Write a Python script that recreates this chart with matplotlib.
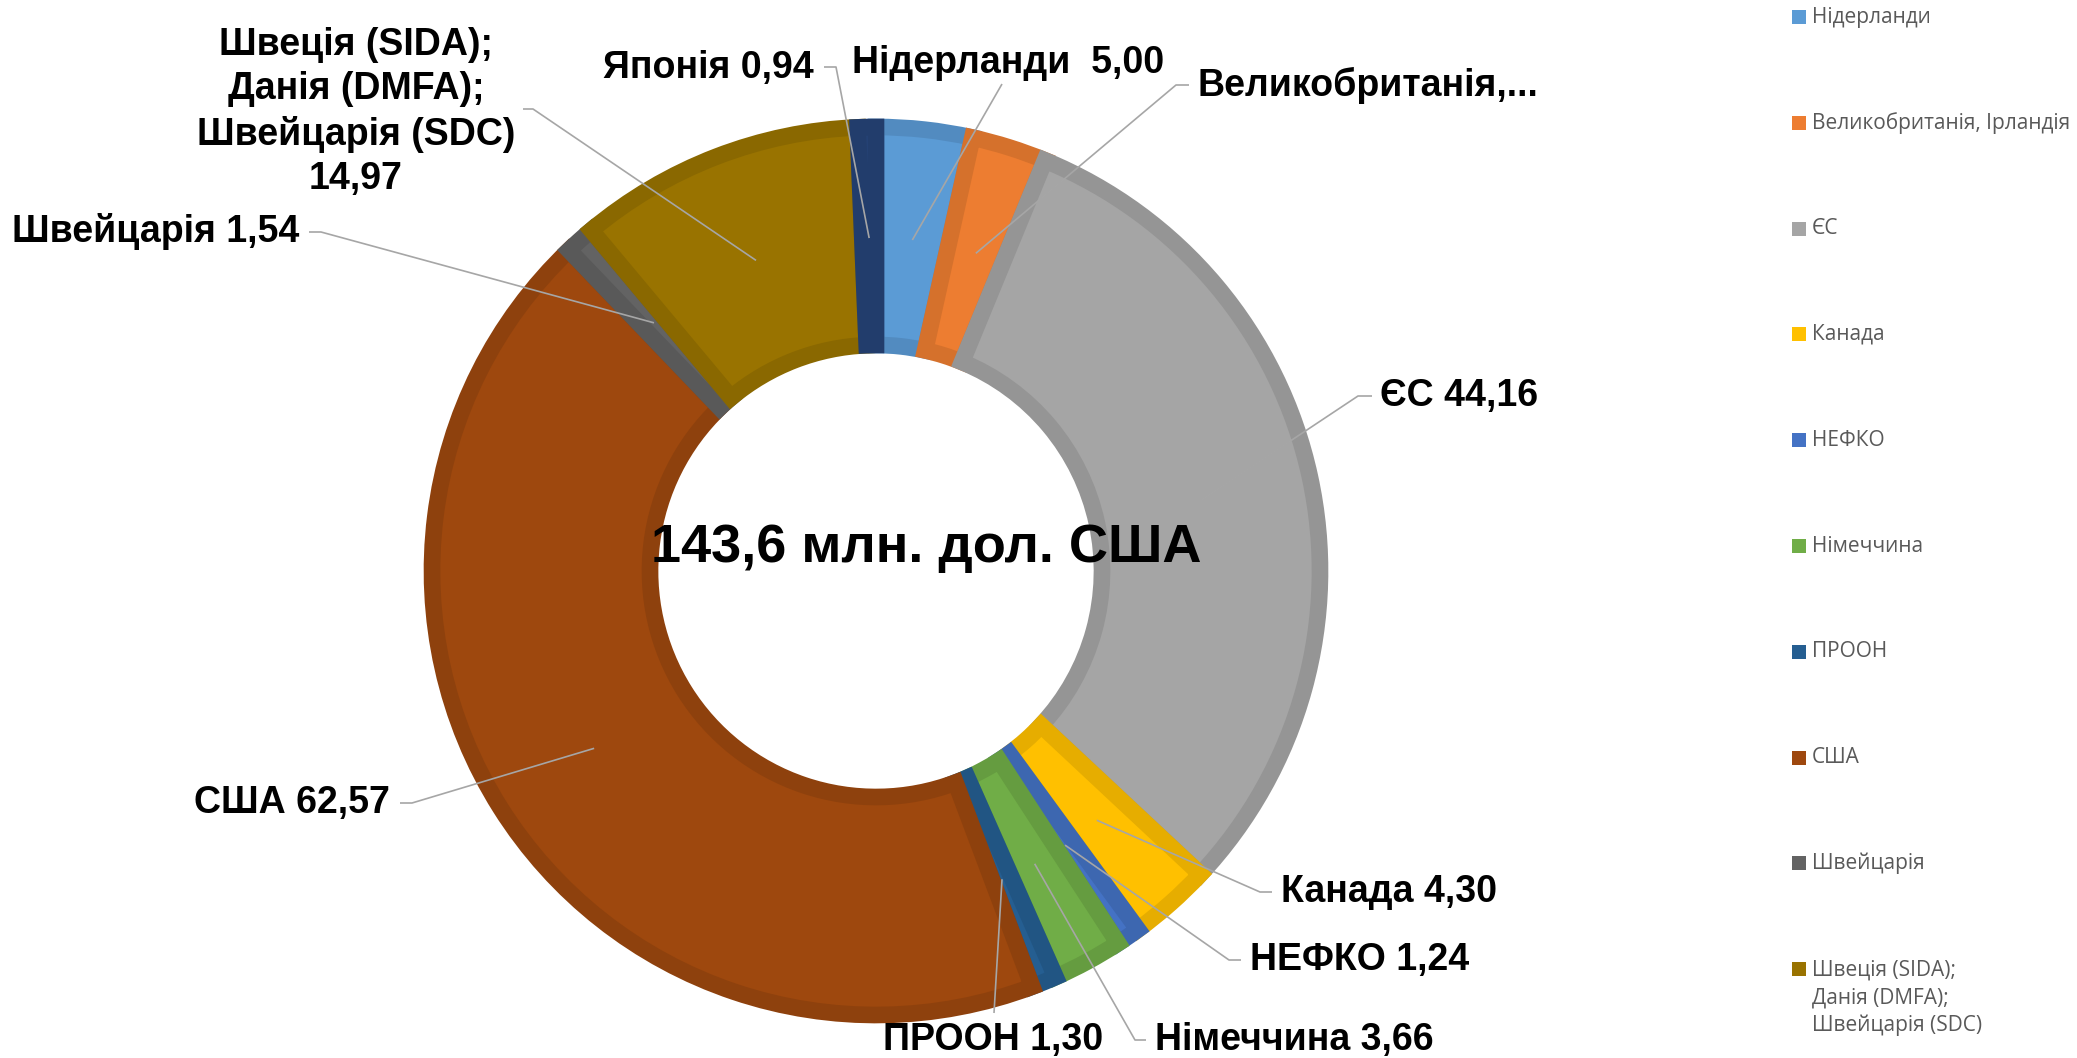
import numpy as np
import matplotlib
matplotlib.use('Agg')
from matplotlib import pyplot as plt
from matplotlib.patches import Rectangle
from matplotlib.colors import to_rgb

# figure in pixels, y measured from the top
W, H = 2077, 1058

donors = ['Нідерланди', 'Великобританія, Ірландія', 'ЄС', 'Канада', 'НЕФКО', 'Німеччина',
          'ПРООН', 'США', 'Швейцарія',
          'Швеція (SIDA);\nДанія (DMFA);\nШвейцарія (SDC)', 'Японія']
amounts = [5.00, 3.92, 44.16, 4.30, 1.24, 3.66, 1.30, 62.57, 1.54, 14.97, 0.94]
label_texts = ['Нідерланди  5,00', 'Великобританія,...', 'ЄС 44,16', 'Канада 4,30',
               'НЕФКО 1,24', 'Німеччина 3,66', 'ПРООН 1,30', 'США 62,57', 'Швейцарія 1,54',
               'Швеція (SIDA);\nДанія (DMFA);\nШвейцарія (SDC)\n14,97', 'Японія 0,94']
colors = ['#5B9BD5', '#ED7D31', '#A5A5A5', '#FFC000', '#4472C4', '#70AD47',
          '#255E91', '#9E480E', '#636363', '#997300', '#264478']
total_text = '143,6 млн. дол. США'

# label layout: text x, text y, alignment, leader start points
label_pos = [
    (852, 63, 'left', [(1002, 84)]),
    (1197, 85, 'left', [(1189, 85), (1176, 85)]),
    (1380, 396, 'left', [(1372, 396), (1358, 396)]),
    (1281, 892, 'left', [(1272, 892), (1260, 892)]),
    (1250, 960, 'left', [(1241, 960), (1229, 960)]),
    (1155, 1040, 'left', [(1146, 1040), (1135, 1040)]),
    (993, 1040, 'center', [(994, 1013)]),
    (390, 803, 'right', [(400, 803), (412, 803)]),
    (299, 232, 'right', [(309, 232), (321, 232)]),
    (356, 112, 'center', [(523, 109), (533, 109)]),
    (814, 68, 'right', [(824, 67), (836, 67)]),
]

plt.rcParams['font.family'] = ['Liberation Sans', 'DejaVu Sans']

cx, cy = 876, 571
R = 444
hole = 226

fig = plt.figure(figsize=(W / 100, H / 100), dpi=100)
ax = fig.add_axes([0, 0, 1, 1])

wedges, _ = ax.pie(amounts, colors=colors, radius=R, center=(cx, H - cy),
                   startangle=90, counterclock=False,
                   wedgeprops=dict(width=R - hole, linewidth=12, joinstyle='miter'))
# darker inner border on every slice (Excel-like bevel)
for w, c in zip(wedges, colors):
    dark = tuple(v * 0.9 for v in to_rgb(c))
    w.set_edgecolor(dark)
    w.set_clip_path(w)

# data labels with leader lines
cum = np.cumsum(amounts)
mids = (cum - np.array(amounts) / 2) / cum[-1] * 2 * np.pi
r_anchor = 0.75 * R
for i, (tx, ty, ha, pts) in enumerate(label_pos):
    axp = cx + r_anchor * np.sin(mids[i])
    ayp = cy - r_anchor * np.cos(mids[i])
    xs = [p[0] for p in pts] + [axp]
    ys = [H - p[1] for p in pts] + [H - ayp]
    ax.plot(xs, ys, color='#A6A6A6', linewidth=1.2, solid_capstyle='butt')
    ax.text(tx, H - ty, label_texts[i], ha=ha, va='center', fontsize=27,
            fontweight='bold', color='black', linespacing=1.3, multialignment='center')

ax.text(926, H - 548, total_text, ha='center', va='center', fontsize=39,
        fontweight='bold', color='black')

# legend, stacked on the right (entries past the bottom edge are cut off)
ly = 17
for name, c in zip(donors, colors):
    if ly > H - 20:
        break
    nlines = name.count('\n') + 1
    ax.add_patch(Rectangle((1792, H - ly - 7), 14, 14, facecolor=c, edgecolor='none'))
    ax.text(1812, H - ly - (nlines - 1) * 29 / 2, name, ha='left', va='center',
            fontsize=15, color='#595959', family=['Open Sans', 'DejaVu Sans'],
            linespacing=1.4)
    ly += 105.8

ax.set_xlim(0, W)
ax.set_ylim(0, H)
ax.axis('off')

plt.savefig('out.png', dpi=100)
